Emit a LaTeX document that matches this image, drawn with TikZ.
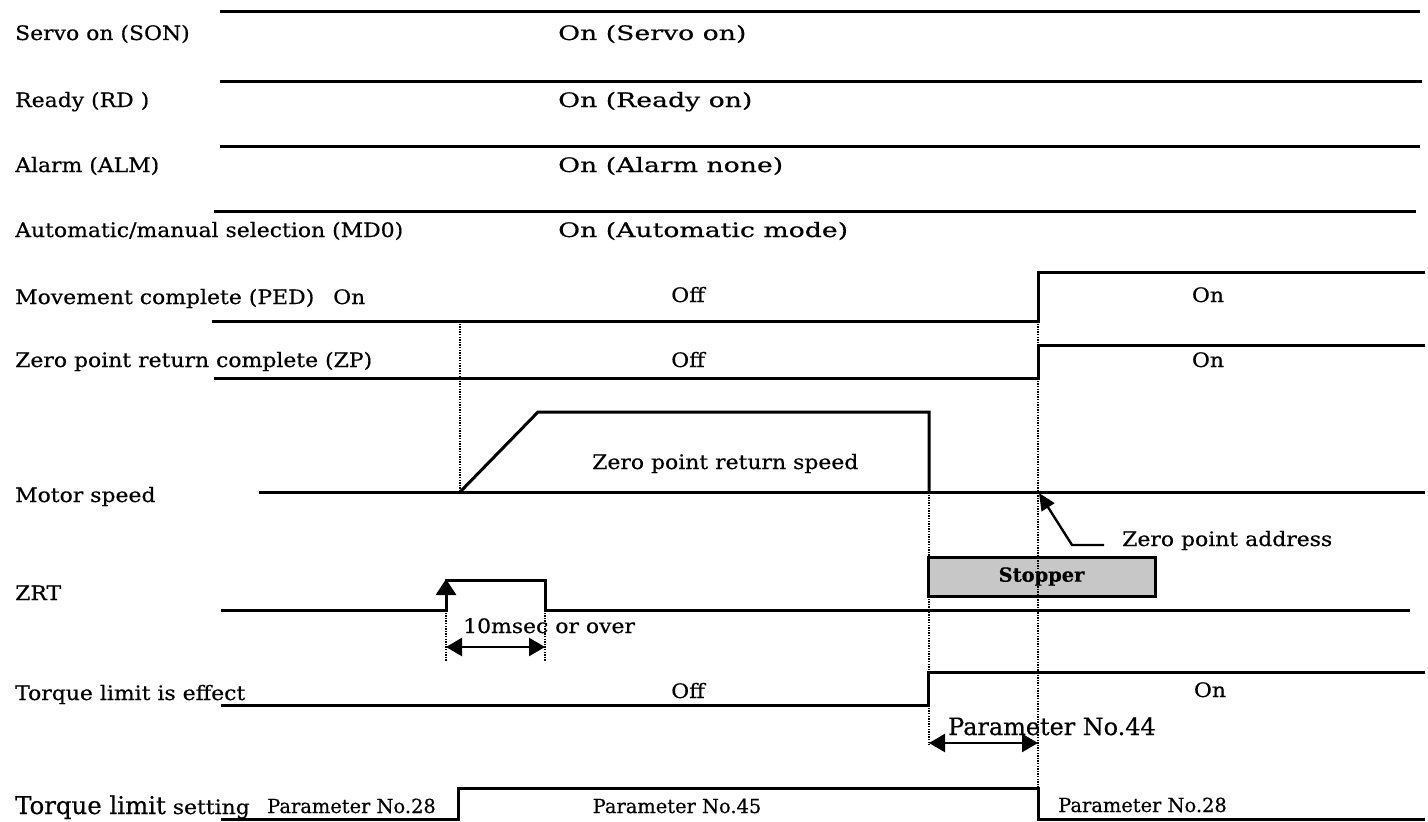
\documentclass[tikz,border=0pt]{standalone}
\usepackage{fontspec}
\setmainfont{DejaVu Serif}[FakeStretch=1.1,FakeBold=0.5]
\newfontfamily\plainserif{DejaVu Serif}[FakeBold=0.5]
\newfontfamily\wideserif{DejaVu Serif}[FakeStretch=1.34,FakeBold=0.5]
\usetikzlibrary{arrows.meta}
\tikzset{
  sig/.style={line width=3bp},
  guide/.style={line width=1.3bp, dash pattern=on 1.4bp off 1.2bp},
  lbl/.style={anchor=base west, inner sep=0pt, font=\fontsize{20}{24}\selectfont},
  ctr/.style={anchor=base, inner sep=0pt, font=\fontsize{20}{24}\selectfont},
  widetxt/.style={font=\wideserif\fontsize{20}{24}\selectfont},
  smalltxt/.style={font=\plainserif\fontsize{19.5}{23}\selectfont},
  bigtxt/.style={font=\plainserif\fontsize{24}{28}\selectfont},
  uptip/.style={-{Triangle[length=16bp,width=20bp]}},
  dbltip/.style={{Triangle[length=16bp,width=18bp]}-{Triangle[length=16bp,width=18bp]}},
}
\begin{document}
\begin{tikzpicture}[x=1bp,y=-1bp]
\useasboundingbox (0,0) rectangle (1428,821);
% ---- left labels
\node[lbl] (lson) at (15,40) {Servo on (SON)};
\node[lbl] (lrd)  at (15,107) {Ready (RD )};
\node[lbl] (lalm) at (15,172) {Alarm (ALM)};
\node[lbl] (lmd)  at (15,237) {Automatic/manual selection (MD0)};
\node[lbl] (lped) at (15,304) {Movement complete (PED)};
\node[lbl] (lpedon) at (333,304) {On};
\node[lbl] (lzp)  at (15,367) {Zero point return complete (ZP)};
\node[lbl] (lmot) at (15,502) {Motor speed};
\node[lbl] (lzrt) at (15,600) {ZRT};
\node[lbl] (ltle) at (15,700) {Torque limit is effect};
\node[lbl] (ltls) at (15,814) {{\plainserif\fontsize{24.5}{28}\selectfont Torque limit} setting};
\node[lbl,smalltxt] (p28a) at (267,813) {Parameter No.28};
% ---- state texts
\node[lbl,widetxt] (tson) at (558,40) {On (Servo on)};
\node[lbl,widetxt] (trd)  at (558,107) {On (Ready on)};
\node[lbl,widetxt] (talm) at (558,172) {On (Alarm none)};
\node[lbl,widetxt] (tmd)  at (558,237) {On (Automatic mode)};
\node[ctr] (pedoff) at (688,302) {Off};
\node[ctr] (pedon)  at (1208,302) {On};
\node[ctr] (zpoff)  at (688,367) {Off};
\node[ctr] (zpon)   at (1208,367) {On};
\node[lbl] (zrs) at (592,469) {Zero point return speed};
\node[lbl] (zpa) at (1122,546) {Zero point address};
\node[lbl] (ms)  at (463,633) {10msec or over};
\node[ctr] (tleoff) at (688,698) {Off};
\node[ctr] (tleon)  at (1210,697) {On};
\node[lbl,bigtxt] (p44) at (948,735) {Parameter No.44};
\node[ctr,smalltxt] (p45) at (677,813) {Parameter No.45};
\node[lbl,smalltxt] (p28b) at (1058,812) {Parameter No.28};
% ---- stopper
\node[draw, line width=3bp, fill=black!22, minimum width=227bp, minimum height=39bp,
      inner sep=0pt, font=\plainserif\bfseries\fontsize{19.5}{22}\selectfont] (stop) at (1041.5,576.5) {Stopper};
% ---- guides (dotted)
\draw[guide] (460,321) -- (460,492);
\draw[guide] (929,492) -- (929,745);
\draw[guide] (1038,321) -- (1038,788);
\draw[guide] (446,610) -- (446,662);
\draw[guide] (545,610) -- (545,662);
% ---- signals
\draw[sig] (220,12) -- (1420,12);
\draw[sig] (220,81) -- (1422,81);
\draw[sig] (220,146) -- (1420,146);
\draw[sig] (214,211) -- (1416,211);
\draw[sig] (212,321) -- (1038,321) -- (1038,272) -- (1425,272);
\draw[sig] (214,378) -- (1038,378) -- (1038,345) -- (1425,345);
\draw[sig] (259,492) -- (1425,492);
\draw[sig] (460,492) -- (538,412) -- (929,412) -- (929,492);
\draw[sig] (221,610) -- (446,610) -- (446,580) -- (545,580) -- (545,610) -- (1410,610);
\draw[sig,uptip] (446,605) -- (446,579);
\draw[sig] (221,705) -- (928,705) -- (928,672) -- (1425,672);
\draw[sig] (221,819) -- (458,819) -- (458,788) -- (1038,788) -- (1038,819) -- (1425,819);
% ---- dimension arrows
\coordinate (a1) at (446,647); \coordinate (a2) at (545,647);
\draw[line width=2.4bp,dbltip] (a1) -- (a2);
\coordinate (b1) at (929,743); \coordinate (b2) at (1038,743);
\draw[line width=2.4bp,dbltip] (b1) -- (b2);
% ---- zero point address pointer
\coordinate (zpt) at (1039,493);
\draw[line width=2.4bp,-{Triangle[length=17bp,width=15bp]}] (1104,545) -- (1072,545) -- (zpt);
\end{tikzpicture}
\end{document}
